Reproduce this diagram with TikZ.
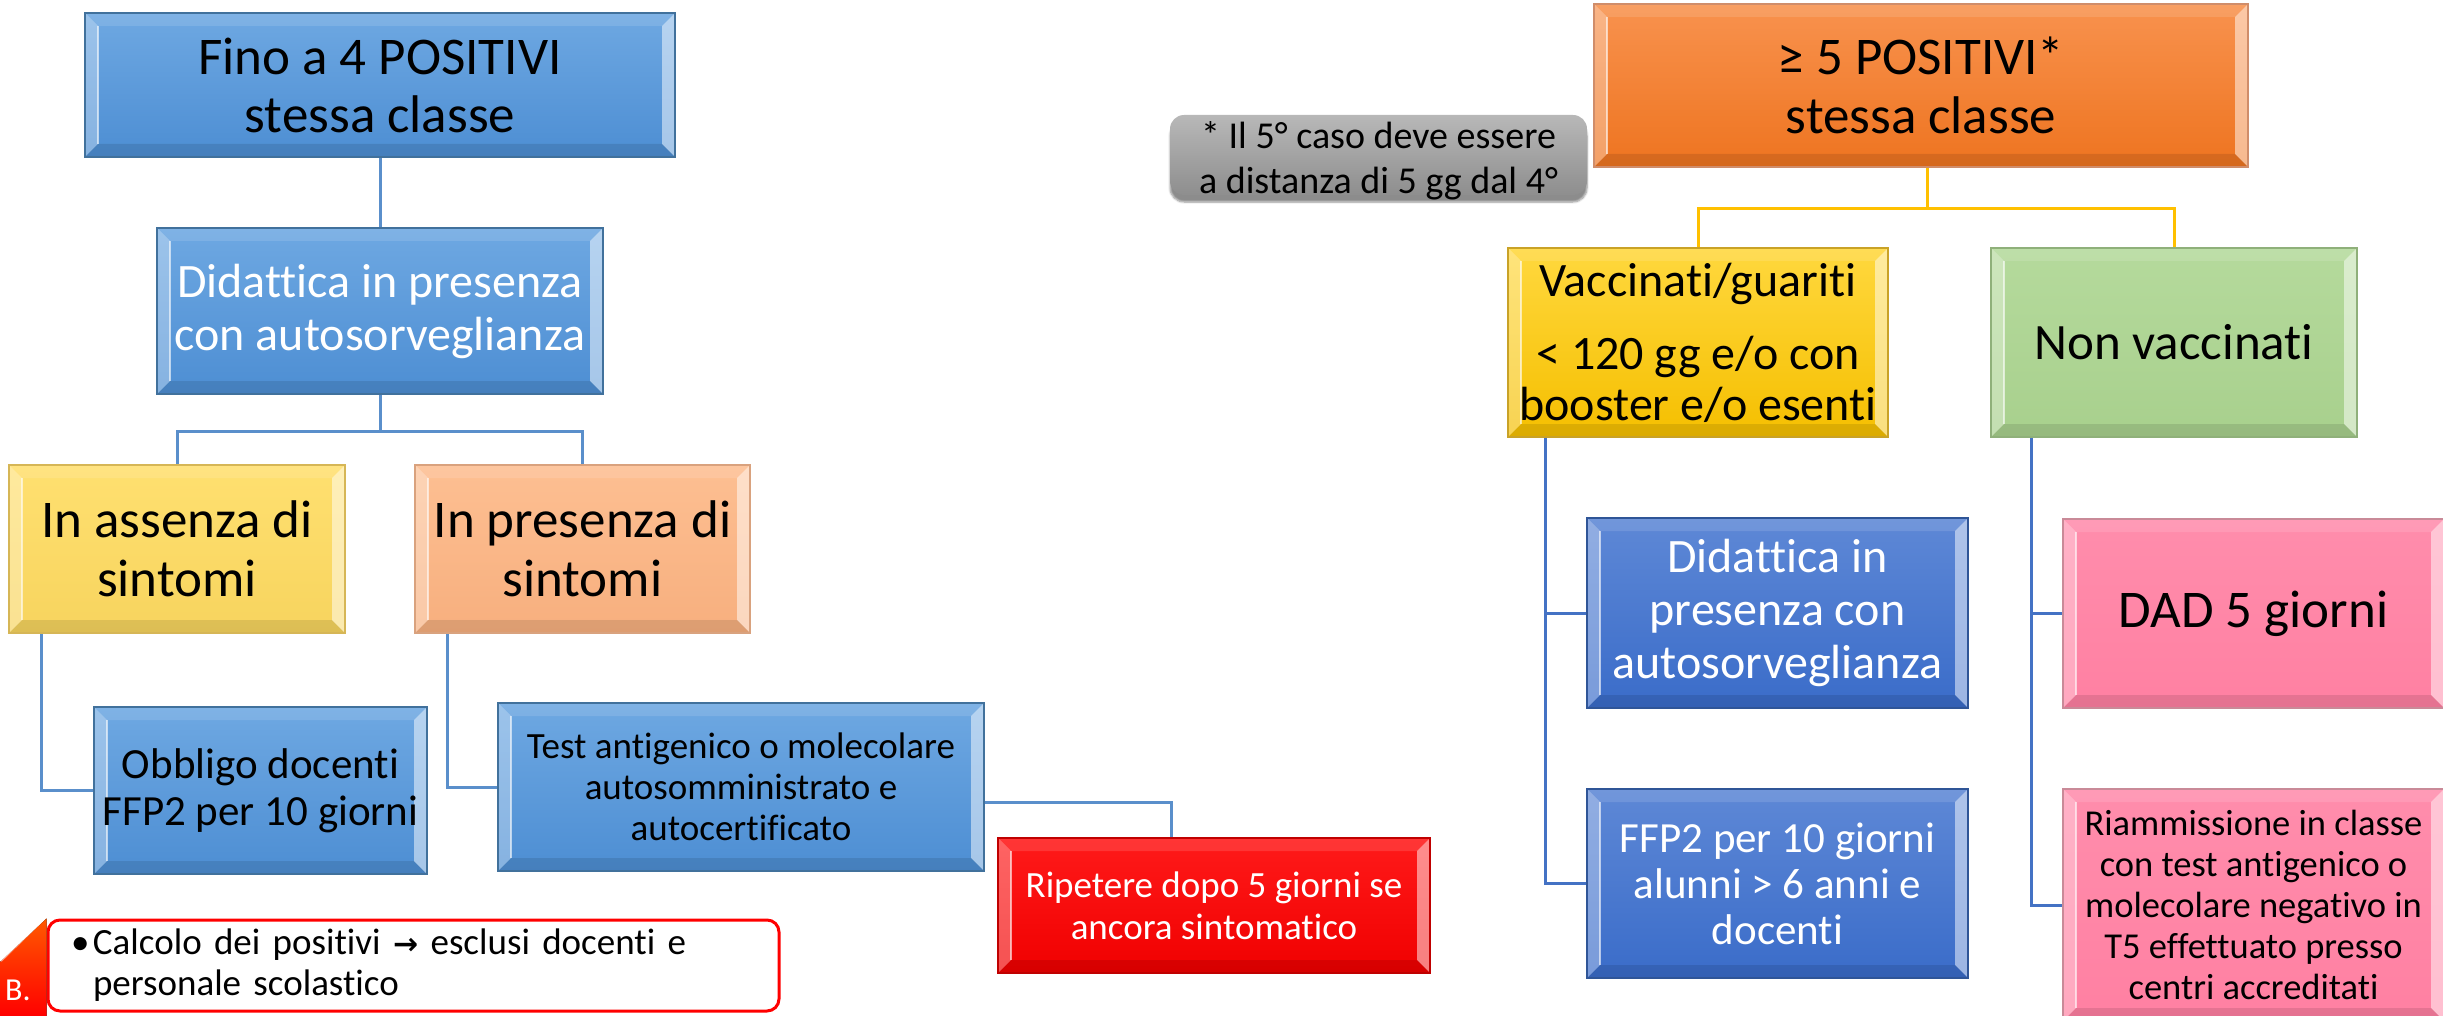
\documentclass[tikz,border=0pt]{standalone}
\usepackage{fontspec}
\setmainfont{Carlito}[Ligatures=CommonOff]
\newfontfamily\djv{DejaVu Sans}
\usetikzlibrary{shadows.blur}
\definecolor{bluT}{HTML}{6EA8E2}\definecolor{bluB}{HTML}{4D8ED3}\definecolor{bluD}{HTML}{41719C}
\definecolor{dbT}{HTML}{5E88D6}\definecolor{dbB}{HTML}{3A6CC9}\definecolor{dbD}{HTML}{2F5597}
\definecolor{yelT}{HTML}{FFE070}\definecolor{yelB}{HTML}{F7D45E}\definecolor{yelD}{HTML}{D6B656}
\definecolor{peaT}{HTML}{FDBF92}\definecolor{peaB}{HTML}{F7AF7E}\definecolor{peaD}{HTML}{D9A27E}
\definecolor{oraT}{HTML}{F8924E}\definecolor{oraB}{HTML}{EE7420}\definecolor{oraD}{HTML}{D08D6A}
\definecolor{golT}{HTML}{FFD83E}\definecolor{golB}{HTML}{F5BF00}\definecolor{golD}{HTML}{C9A227}
\definecolor{grnT}{HTML}{B5DA9C}\definecolor{grnB}{HTML}{A8D08D}\definecolor{grnD}{HTML}{8FB07A}
\definecolor{pnkT}{HTML}{FF8DAC}\definecolor{pnkB}{HTML}{FF80A2}\definecolor{pnkD}{HTML}{C98A98}
\definecolor{redT}{HTML}{FF1A1A}\definecolor{redB}{HTML}{F00000}\definecolor{redD}{HTML}{C00000}
\definecolor{gryT}{HTML}{B8B8B8}\definecolor{gryB}{HTML}{8E8E8E}
\definecolor{lnB}{HTML}{5A8FCB}\definecolor{lnG}{HTML}{FFC000}\definecolor{lnD}{HTML}{4472C4}
\newcommand\myfs[2]{\fontsize{#1}{#2}\selectfont}
\newcommand\bx[7]{\node[#6,minimum width={#4pt-#2pt},minimum height={#5pt-#3pt}] (#1) at ({(#2+#4)/2},{(#3+#5)/2}) {#7};}
\tikzset{
  box/.style={draw, line width=2pt, inner sep=0pt, align=center,
    path picture={
      \coordinate (pnw) at (path picture bounding box.north west);
      \coordinate (pne) at (path picture bounding box.north east);
      \coordinate (psw) at (path picture bounding box.south west);
      \coordinate (pse) at (path picture bounding box.south east);
      \fill[white,opacity=.32] (pnw) -- ([xshift=13pt,yshift=-13pt]pnw) -- ([xshift=13pt,yshift=13pt]psw) -- (psw) -- cycle;
      \fill[white,opacity=.12] (pnw) -- (pne) -- ([xshift=-13pt,yshift=-13pt]pne) -- ([xshift=13pt,yshift=-13pt]pnw) -- cycle;
      \fill[white,opacity=.5] (pne) -- (pse) -- ([xshift=-13pt,yshift=13pt]pse) -- ([xshift=-13pt,yshift=-13pt]pne) -- cycle;
      \fill[black,opacity=.1] (psw) -- (pse) -- ([xshift=-13pt,yshift=13pt]pse) -- ([xshift=13pt,yshift=13pt]psw) -- cycle;
      \draw[white,opacity=.6,line width=2pt] ([xshift=13pt,yshift=-13pt]pnw) -- ([xshift=13pt,yshift=13pt]psw);
    }},
  bluebox/.style={box, top color=bluT, bottom color=bluB, draw=bluD},
  dbox/.style={box, top color=dbT, bottom color=dbB, draw=dbD},
  yelbox/.style={box, top color=yelT, bottom color=yelB, draw=yelD},
  peabox/.style={box, top color=peaT, bottom color=peaB, draw=peaD},
  orabox/.style={box, top color=oraT, bottom color=oraB, draw=oraD},
  golbox/.style={box, top color=golT, bottom color=golB, draw=golD},
  grnbox/.style={box, top color=grnT, bottom color=grnB, draw=grnD},
  pnkbox/.style={box, top color=pnkT, bottom color=pnkB, draw=pnkD},
  redbox/.style={box, top color=redT, bottom color=redB, draw=redD},
  lc/.style={draw=lnB, line width=3pt},
  gc/.style={draw=lnG, line width=3pt},
  bc/.style={draw=lnD, line width=3pt},
}
\begin{document}
\begin{tikzpicture}[x=1pt,y=-1pt]
\useasboundingbox (0,0) rectangle (2443,1016);
% left tree
\bx{top1}{85}{13}{675}{157}{bluebox,font=\myfs{53}{58}}{Fino a 4 POSITIVI\\stessa classe}
\bx{did1}{157}{228}{603}{394}{bluebox,text=white,font=\myfs{48}{53}}{Didattica in presenza\\con autosorveglianza}
\bx{ass}{9}{465}{345}{633}{yelbox,font=\myfs{53}{59}}{In assenza di\\sintomi}
\bx{pres}{415}{465}{750}{633}{peabox,font=\myfs{53}{59}}{In presenza di\\sintomi}
\bx{obb}{94}{707}{427}{874}{bluebox,font=\myfs{43}{47}}{Obbligo docenti\\FFP2 per 10 giorni}
\bx{test}{498}{703}{984}{871}{bluebox,font=\myfs{37}{41}}{Test antigenico o molecolare\\autosomministrato e\\autocertificato}
\bx{red}{998}{838}{1430}{973}{redbox,text=white,font=\myfs{37}{42}}{Ripetere dopo 5 giorni se\\ancora sintomatico}
% note
\node[draw=red, line width=3pt, fill=white, rounded corners=12pt, minimum width=731pt, minimum height=91pt,
  text width=685pt, inner xsep=23pt, inner ysep=0pt, align=left, font=\myfs{37}{41}] (note) at (413.5,965.5)
  {\mbox{\makebox[22pt][l]{•}Calcolo dei positivi {\djv\bfseries\myfs{30}{41}→} esclusi docenti e}\\\mbox{\hspace*{22pt}personale scolastico}};
\fill[top color=orange!70!red, bottom color=red] (note.north west) -- (0,962) -- (0,1016) -- ([yshift=-4pt]note.south west) -- cycle;
\draw[white,opacity=.5,line width=2pt] ([xshift=-2pt]note.north west) -- (1,961);
\node[text=white, font=\myfs{32}{36}, anchor=base west, inner sep=0pt] (btag) at (5,1000) {B.};
% grey note
\node[rounded corners=14pt, top color=gryT, bottom color=gryB, minimum width=417pt, minimum height=80pt,
  inner sep=0pt,
  blur shadow={shadow xshift=0pt, shadow yshift=-7pt, shadow blur steps=6, shadow opacity=45},
  label={[font=\myfs{38}{45}, align=center, inner sep=0pt, yshift=-6pt]center:{* Il 5° caso deve essere\\a distanza di 5 gg dal 4°}}] (gnote) at (1378.5,155) {};
% right tree
\bx{ora}{1594}{4}{2248}{167}{orabox,font=\myfs{53}{59}}{≥ 5 POSITIVI*\\stessa classe}
\bx{vacc}{1508}{248}{1888}{437}{golbox,font=\myfs{48}{51}}{Vaccinati/guariti\\[22pt]< 120 gg e/o con\\booster e/o esenti}
\bx{nonv}{1991}{248}{2357}{437}{grnbox,font=\myfs{51}{56}}{Non vaccinati}
\bx{did2}{1587}{518}{1968}{708}{dbox,text=white,font=\myfs{48}{53}}{Didattica in\\presenza con\\autosorveglianza}
\bx{ffp2}{1587}{789}{1968}{978}{dbox,text=white,font=\myfs{43}{46}}{FFP2 per 10 giorni\\alunni > 6 anni e\\docenti}
\bx{dad}{2063}{519}{2444}{708}{pnkbox,font=\myfs{53}{56}}{DAD 5 giorni}
\bx{riam}{2063}{789}{2444}{1021}{pnkbox,font=\myfs{36.5}{41}}{Riammissione in classe\\con test antigenico o\\molecolare negativo in\\T5 effettuato presso\\centri accreditati}
% connectors
\draw[lc] (top1.south) -- (did1.north);
\draw[lc] (did1.south) -- ++(0,36) -| (ass.north);
\draw[lc] (did1.south) -- ++(0,36) -| (pres.north);
\draw[lc] ([xshift=33pt]ass.south west) |- (obb.west);
\draw[lc] ([xshift=33pt]pres.south west) |- (test.west);
\draw[lc] ([yshift=-15pt]test.east) -| ([xshift=-43pt]red.north);
\draw[gc] ([xshift=6pt]ora.south) -- ++(0,41) -| (vacc.north);
\draw[gc] ([xshift=6pt]ora.south) -- ++(0,41) -| (nonv.north);
\draw[bc] ([xshift=38pt]vacc.south west) |- (did2.west);
\draw[bc] ([xshift=38pt]vacc.south west) |- (ffp2.west);
\draw[bc] ([xshift=41pt]nonv.south west) |- (dad.west);
\draw[bc] ([xshift=41pt]nonv.south west) |- (riam.west);
\end{tikzpicture}
\end{document}
